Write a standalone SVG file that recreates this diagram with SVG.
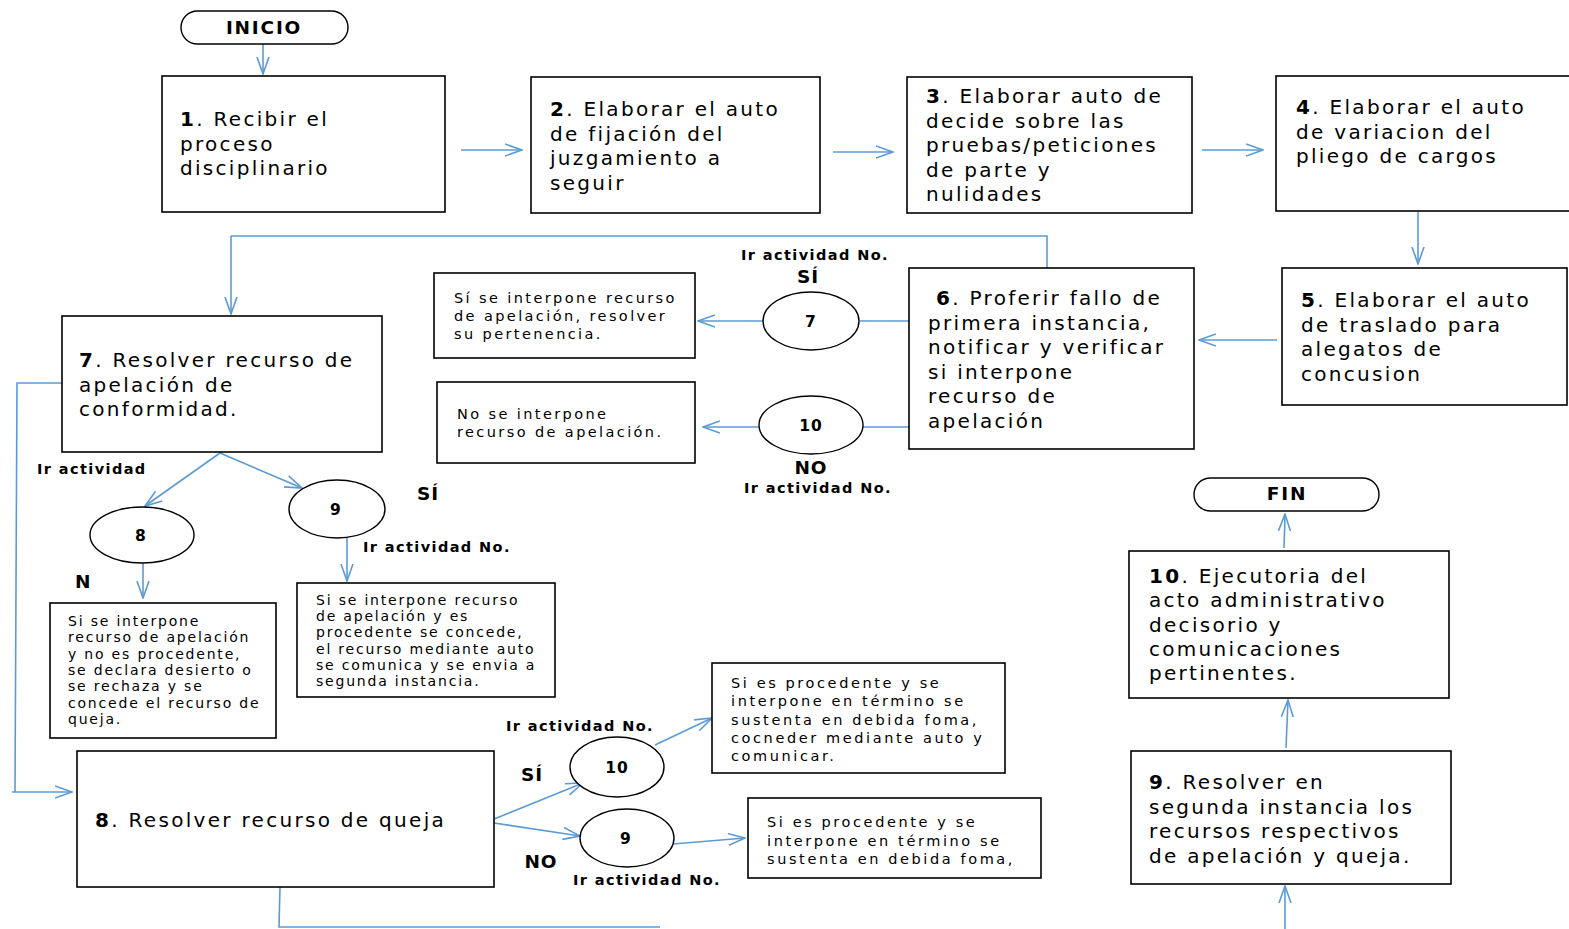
<svg xmlns="http://www.w3.org/2000/svg" width="1569" height="929" viewBox="0 0 1569 929">
<defs>
<style>
.box{fill:#fff;stroke:#000;stroke-width:1.6}
.pill{fill:#fff;stroke:#000;stroke-width:1.4}
.ell{fill:#fff;stroke:#000;stroke-width:1.4}
.c{fill:none;stroke:#5b9bd5;stroke-width:1.6}
.ca{fill:none;stroke:#5b9bd5;stroke-width:1.6;marker-end:url(#arr)}
.t{font-family:"DejaVu Sans","Liberation Sans",sans-serif;font-size:20px;fill:#000;letter-spacing:2.3px}
.s{font-family:"DejaVu Sans","Liberation Sans",sans-serif;font-size:14.5px;fill:#000;letter-spacing:2.4px}
.s2{font-family:"DejaVu Sans","Liberation Sans",sans-serif;font-size:14px;fill:#000;letter-spacing:1.8px}
.b{font-family:"DejaVu Sans","Liberation Sans",sans-serif;font-size:14.5px;font-weight:bold;fill:#000;letter-spacing:1.4px}
.bn{font-family:"DejaVu Sans","Liberation Sans",sans-serif;font-size:15.5px;font-weight:bold;fill:#000;letter-spacing:1px}
.bm{font-family:"DejaVu Sans","Liberation Sans",sans-serif;font-size:18.5px;font-weight:bold;fill:#000;letter-spacing:1px}
.n{font-weight:bold}
</style>
<marker id="arr" viewBox="0 0 18 14" refX="17" refY="7" markerWidth="18" markerHeight="14" markerUnits="userSpaceOnUse" orient="auto">
<path d="M0,1 L17,7 L0,13" fill="none" stroke="#5b9bd5" stroke-width="1.6"/>
</marker>
</defs>
<rect width="1569" height="929" fill="#fff"/>

<g id="connectors">
<line class="ca" x1="263" y1="44" x2="263" y2="74"/>
<line class="ca" x1="461" y1="150" x2="522" y2="150"/>
<line class="ca" x1="833" y1="152" x2="893" y2="152"/>
<line class="ca" x1="1202" y1="150" x2="1263" y2="150"/>
<line class="ca" x1="1418" y1="212" x2="1418" y2="264"/>
<line class="ca" x1="1277" y1="340" x2="1199" y2="340"/>
<polyline class="c" points="1047,268 1047,236 231,236"/>
<line class="ca" x1="231" y1="236" x2="231" y2="314"/>
<polyline class="c" points="62,383 17,383 15,792"/>
<line class="ca" x1="12" y1="792" x2="72" y2="792"/>
<line class="ca" x1="220" y1="453" x2="145" y2="506"/>
<line class="ca" x1="220" y1="453" x2="302" y2="488"/>
<line class="ca" x1="143" y1="563" x2="143" y2="598"/>
<line class="ca" x1="347" y1="538" x2="347" y2="581"/>
<line class="c" x1="860" y1="321" x2="909" y2="321"/>
<line class="ca" x1="763" y1="321" x2="698" y2="321"/>
<line class="c" x1="863" y1="427" x2="909" y2="427"/>
<line class="ca" x1="759" y1="427" x2="703" y2="427"/>
<line class="ca" x1="494" y1="819" x2="583" y2="783"/>
<line class="ca" x1="494" y1="823" x2="580" y2="836"/>
<line class="ca" x1="655" y1="745" x2="712" y2="718"/>
<line class="ca" x1="673" y1="844" x2="745" y2="838"/>
<line class="ca" x1="1284" y1="548" x2="1285" y2="514"/>
<line class="ca" x1="1286" y1="748" x2="1288" y2="700"/>
<line class="ca" x1="1285" y1="929" x2="1285" y2="886"/>
<polyline class="c" points="280,887 279,927 660,927"/>
</g>

<g id="inicio">
<rect class="pill" x="181" y="11" width="167" height="33" rx="16.5"/>
<text class="bm" x="264" y="34" text-anchor="middle" style="letter-spacing:1.8px">INICIO</text>
</g>

<g id="n1">
<rect class="box" x="162" y="76" width="283" height="136"/>
<text class="t" x="180" y="126"><tspan class="n">1</tspan>. Recibir el<tspan x="180" dy="24.5">proceso</tspan><tspan x="180" dy="24.5">disciplinario</tspan></text>
</g>

<g id="n2">
<rect class="box" x="531" y="77" width="289" height="136"/>
<text class="t" x="550" y="116"><tspan class="n">2</tspan>. Elaborar el auto<tspan x="550" dy="24.5">de fijación del</tspan><tspan x="550" dy="24.5">juzgamiento a</tspan><tspan x="550" dy="24.5">seguir</tspan></text>
</g>

<g id="n3">
<rect class="box" x="907" y="77" width="285" height="136"/>
<text class="t" x="926" y="103"><tspan class="n">3</tspan>. Elaborar auto de<tspan x="926" dy="24.5">decide sobre las</tspan><tspan x="926" dy="24.5">pruebas/peticiones</tspan><tspan x="926" dy="24.5">de parte y</tspan><tspan x="926" dy="24.5">nulidades</tspan></text>
</g>

<g id="n4">
<rect class="box" x="1276" y="76" width="300" height="135"/>
<text class="t" x="1296" y="114"><tspan class="n">4</tspan>. Elaborar el auto<tspan x="1296" dy="24.5">de variacion del</tspan><tspan x="1296" dy="24.5">pliego de cargos</tspan></text>
</g>

<g id="n5">
<rect class="box" x="1282" y="268" width="285" height="137"/>
<text class="t" x="1301" y="307"><tspan class="n">5</tspan>. Elaborar el auto<tspan x="1301" dy="24.5">de traslado para</tspan><tspan x="1301" dy="24.5">alegatos de</tspan><tspan x="1301" dy="24.5">concusion</tspan></text>
</g>

<g id="n6">
<rect class="box" x="909" y="268" width="285" height="181"/>
<text class="t" x="936" y="305"><tspan class="n">6</tspan>. Proferir fallo de<tspan x="928" dy="24.5">primera instancia,</tspan><tspan x="928" dy="24.5">notificar y verificar</tspan><tspan x="928" dy="24.5">si interpone</tspan><tspan x="928" dy="24.5">recurso de</tspan><tspan x="928" dy="24.5">apelación</tspan></text>
</g>

<g id="c7a">
<ellipse class="ell" cx="811" cy="321" rx="48" ry="29"/>
<text class="bn" x="811" y="327" text-anchor="middle">7</text>
<text class="b" x="815" y="260" text-anchor="middle">Ir actividad No.</text>
<text class="bm" x="808" y="283" text-anchor="middle">SÍ</text>
</g>

<g id="c10a">
<ellipse class="ell" cx="811" cy="425" rx="52" ry="29"/>
<text class="bn" x="811" y="431" text-anchor="middle">10</text>
<text class="bm" x="811" y="474" text-anchor="middle">NO</text>
<text class="b" x="818" y="493" text-anchor="middle">Ir actividad No.</text>
</g>

<g id="r7a">
<rect class="box" x="434" y="273" width="261" height="85"/>
<text class="s" x="454" y="303">Sí se interpone recurso<tspan x="454" dy="18">de apelación, resolver</tspan><tspan x="454" dy="18">su pertenencia.</tspan></text>
</g>

<g id="r10a">
<rect class="box" x="437" y="382" width="258" height="81"/>
<text class="s" x="457" y="419">No se interpone<tspan x="457" dy="18">recurso de apelación.</tspan></text>
</g>

<g id="n7">
<rect class="box" x="62" y="316" width="320" height="136"/>
<text class="t" x="79" y="367"><tspan class="n">7</tspan>. Resolver recurso de<tspan x="79" dy="24.5">apelación de</tspan><tspan x="79" dy="24.5">conformidad.</tspan></text>
</g>

<g id="labels7">
<text class="b" x="37" y="474">Ir actividad</text>
<text class="bm" x="417" y="500">SÍ</text>
<text class="b" x="363" y="552">Ir actividad No.</text>
<text class="bm" x="75" y="588">N</text>
</g>

<g id="c8">
<ellipse class="ell" cx="142" cy="535" rx="52" ry="28"/>
<text class="bn" x="141" y="541" text-anchor="middle">8</text>
</g>

<g id="c9">
<ellipse class="ell" cx="337" cy="509" rx="48" ry="29"/>
<text class="bn" x="336" y="515" text-anchor="middle">9</text>
</g>

<g id="r8">
<rect class="box" x="50" y="603" width="226" height="135"/>
<text class="s2" x="68" y="626">Si se interpone<tspan x="68" dy="16.3">recurso de apelación</tspan><tspan x="68" dy="16.3">y no es procedente,</tspan><tspan x="68" dy="16.3">se declara desierto o</tspan><tspan x="68" dy="16.3">se rechaza y se</tspan><tspan x="68" dy="16.3">concede el recurso de</tspan><tspan x="68" dy="16.3">queja.</tspan></text>
</g>

<g id="r9">
<rect class="box" x="297" y="583" width="258" height="114"/>
<text class="s2" x="316" y="605">Si se interpone recurso<tspan x="316" dy="16.2">de apelación y es</tspan><tspan x="316" dy="16.2">procedente se concede,</tspan><tspan x="316" dy="16.2">el recurso mediante auto</tspan><tspan x="316" dy="16.2">se comunica y se envia a</tspan><tspan x="316" dy="16.2">segunda instancia.</tspan></text>
</g>

<g id="n8">
<rect class="box" x="77" y="751" width="417" height="136"/>
<text class="t" x="95" y="827"><tspan class="n">8</tspan>. Resolver recurso de queja</text>
</g>

<g id="c10b">
<ellipse class="ell" cx="617" cy="767" rx="47" ry="30"/>
<text class="bn" x="617" y="773" text-anchor="middle">10</text>
<text class="b" x="580" y="731" text-anchor="middle">Ir actividad No.</text>
<text class="bm" x="532" y="781" text-anchor="middle">SÍ</text>
</g>

<g id="c9b">
<ellipse class="ell" cx="627" cy="838" rx="47" ry="29"/>
<text class="bn" x="626" y="844" text-anchor="middle">9</text>
<text class="bm" x="541" y="868" text-anchor="middle">NO</text>
<text class="b" x="647" y="885" text-anchor="middle">Ir actividad No.</text>
</g>

<g id="r10b">
<rect class="box" x="712" y="663" width="293" height="110"/>
<text class="s" x="731" y="688" style="letter-spacing:2.6px">Si es procedente y se<tspan x="731" dy="18.3">interpone en término se</tspan><tspan x="731" dy="18.3">sustenta en debida foma,</tspan><tspan x="731" dy="18.3">cocneder mediante auto y</tspan><tspan x="731" dy="18.3">comunicar.</tspan></text>
</g>

<g id="r9b">
<rect class="box" x="748" y="798" width="293" height="80"/>
<text class="s" x="767" y="827" style="letter-spacing:2.6px">Si es procedente y se<tspan x="767" dy="18.5">interpone en término se</tspan><tspan x="767" dy="18.5">sustenta en debida foma,</tspan></text>
</g>

<g id="fin">
<rect class="pill" x="1194" y="478" width="185" height="33" rx="16.5"/>
<text class="bm" x="1287" y="500" text-anchor="middle" style="letter-spacing:1.8px">FIN</text>
</g>

<g id="n10">
<rect class="box" x="1129" y="551" width="320" height="147"/>
<text class="t" x="1149" y="583"><tspan class="n">10</tspan>. Ejecutoria del<tspan x="1149" dy="24.3">acto administrativo</tspan><tspan x="1149" dy="24.3">decisorio y</tspan><tspan x="1149" dy="24.3">comunicaciones</tspan><tspan x="1149" dy="24.3">pertinentes.</tspan></text>
</g>

<g id="n9">
<rect class="box" x="1131" y="751" width="320" height="133"/>
<text class="t" x="1149" y="789"><tspan class="n">9</tspan>. Resolver en<tspan x="1149" dy="24.5">segunda instancia los</tspan><tspan x="1149" dy="24.5">recursos respectivos</tspan><tspan x="1149" dy="24.5">de apelación y queja.</tspan></text>
</g>
</svg>
